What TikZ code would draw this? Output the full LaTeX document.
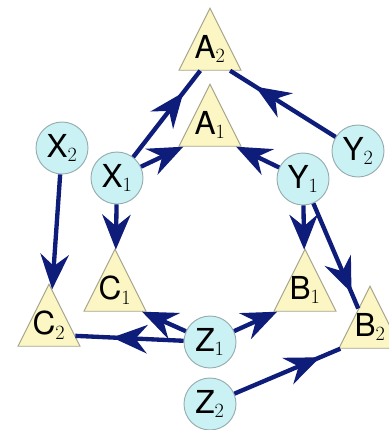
\documentclass[tikz,border=0pt]{standalone}
\usepackage{fontspec}
\setmainfont{TeX Gyre Heros}
\usepackage{tikz}
\usetikzlibrary{arrows.meta,shapes.geometric,decorations.markings}

\definecolor{edgeblue}{RGB}{14,28,122}
\definecolor{varfill}{RGB}{202,242,245}
\definecolor{varline}{RGB}{150,172,174}
\definecolor{facfill}{RGB}{251,246,196}
\definecolor{facline}{RGB}{168,166,140}

\begin{document}
\begin{tikzpicture}[x=0.3mm, y=-0.3mm,
  var/.style={circle, minimum size=15.6mm, inner sep=0pt, draw=varline, line width=0.8pt, fill=varfill, font=\fontsize{27}{30}\selectfont},
  fac/.style={isosceles triangle, shape border rotate=90, isosceles triangle stretches, minimum width=18.6mm, minimum height=18.6mm, inner sep=0pt, text height=2mm, text depth=2mm, draw=facline, line width=0.8pt, fill=facfill, anchor=apex, font=\fontsize{27}{30}\selectfont},
  edge/.style={draw=edgeblue, line width=1.3mm},
  tipend/.style={edge, -{Stealth[length=10.5mm, width=8.5mm, inset=3.5mm]}},
  tipat/.style={edge, postaction={decorate}, decoration={markings, mark=at position #1 with {\arrow{Stealth[length=10.5mm, width=8.5mm, inset=3.5mm]}}}}]
\useasboundingbox (0,0) rectangle (389,430);
% factors
\node[fac] (a2) at (210,7) {A$_2$};
\node[fac] (a1) at (210,83) {A$_1$};
\node[fac] (c1) at (115,248) {C$_1$};
\node[fac] (b1) at (305,248) {B$_1$};
\node[fac] (c2) at (49,283) {C$_2$};
\node[fac] (b2) at (370,285) {B$_2$};
% variables
\node[var] (x2) at (62,148) {X$_2$};
\node[var] (x1) at (117,178) {X$_1$};
\node[var] (y1) at (303,179) {Y$_1$};
\node[var] (y2) at (358,151) {Y$_2$};
\node[var] (z1) at (210,342) {Z$_1$};
\node[var] (z2) at (210,404) {Z$_2$};
% edges
\draw[tipend] (x1) -- (a1);
\draw[tipend] (y1) -- (a1);
\draw[tipat=0.75] (x1) -- (a2);
\draw[tipat=0.76] (y2) -- (a2);
\draw[tipend] (x1) -- (c1);
\draw[tipend] (y1) -- (b1);
\draw[tipat=0.85] (y1) -- (b2);
\draw[tipend] (x2) -- (c2);
\draw[tipend] (z1) -- (c1);
\draw[tipend] (z1) -- (b1);
\draw[tipat=0.66] (z1) -- (c2);
\draw[tipat=0.81] (z2) -- (b2);
\end{tikzpicture}
\end{document}
